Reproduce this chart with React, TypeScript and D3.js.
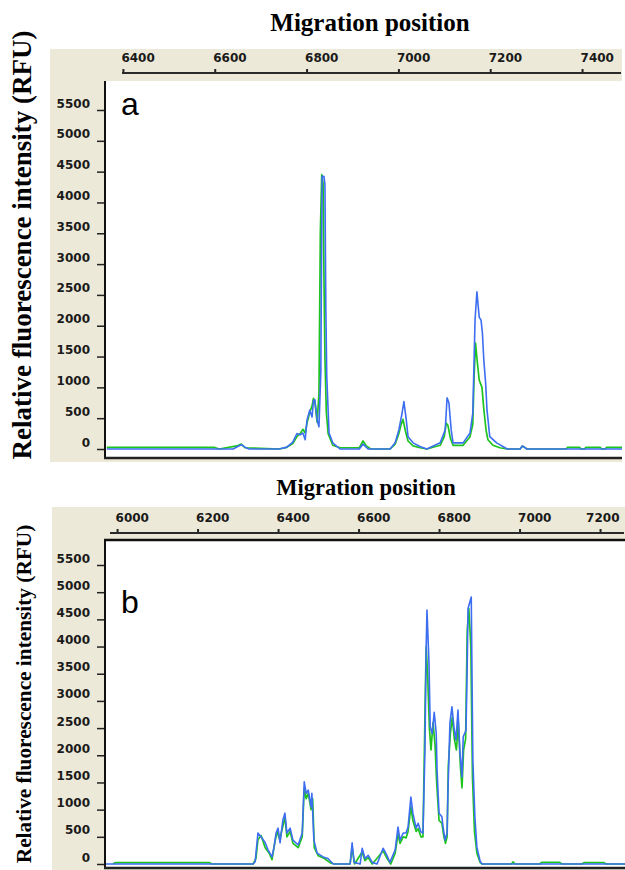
import { useEffect, useRef } from "react";
import * as d3 from "d3";

// tick labels
const yTicks = [0, 500, 1000, 1500, 2000, 2500, 3000, 3500, 4000, 4500, 5000, 5500];
const xTicksA = [6400, 6600, 6800, 7000, 7200, 7400];
const xTicksB = [6000, 6200, 6400, 6600, 6800, 7000, 7200];

// panel a traces: [migration position, RFU]
const blueA: [number, number][] = [
  [6365, 0], [6640, 0], [6650, 40], [6658, 70], [6666, 30], [6675, 0], [6740, 0],
  [6757, 30], [6770, 110], [6779, 250], [6786, 230], [6792, 260], [6797, 150],
  [6801, 470], [6807, 630], [6812, 520], [6815, 780], [6818, 800], [6823, 470],
  [6827, 360], [6831, 1230], [6833, 3500], [6834, 4430], [6838, 4420], [6840, 4290],
  [6842, 2260], [6844, 1170], [6849, 260], [6857, 100], [6873, 0], [6915, 0],
  [6923, 80], [6934, 0], [6982, 0], [6993, 100], [7001, 310], [7008, 580],
  [7012, 770], [7017, 480], [7021, 200], [7032, 100], [7047, 40], [7062, 0],
  [7091, 100], [7102, 310], [7106, 830], [7110, 750], [7115, 310], [7119, 100],
  [7141, 100], [7156, 260], [7162, 580], [7167, 2100], [7171, 2550], [7176, 2140],
  [7180, 2090], [7183, 1880], [7186, 1445], [7190, 1070], [7193, 630], [7199, 200],
  [7214, 100], [7237, 0], [7265, 0], [7270, 50], [7280, 0], [7487, 0],
];
const greenA: [number, number][] = [
  [6365, 25], [6600, 25], [6610, 0], [6648, 50], [6658, 80], [6666, 20], [6740, 0],
  [6755, 20], [6770, 90], [6779, 200], [6786, 250], [6792, 320], [6797, 260],
  [6801, 420], [6807, 600], [6812, 700], [6815, 820], [6818, 780], [6823, 430],
  [6827, 900], [6830, 3500], [6833, 4450], [6836, 4300], [6838, 2700], [6840, 1500],
  [6843, 600], [6847, 250], [6857, 60], [6873, 20], [6915, 20], [6923, 130],
  [6930, 50], [6940, 0], [6982, 0], [6993, 80], [7001, 250], [7006, 400],
  [7010, 480], [7015, 300], [7021, 130], [7032, 50], [7047, 20], [7062, 0],
  [7091, 60], [7100, 200], [7104, 420], [7108, 380], [7113, 180], [7119, 60],
  [7141, 60], [7156, 200], [7162, 400], [7165, 1200], [7168, 1720], [7172, 1400],
  [7176, 1120], [7182, 1000], [7186, 650], [7191, 300], [7195, 150], [7206, 60],
  [7221, 20], [7237, 0], [7265, 0], [7270, 50], [7280, 0], [7365, 0], [7368, 25],
  [7395, 25], [7398, 0], [7405, 0], [7408, 25], [7440, 25], [7443, 0], [7450, 0],
  [7453, 25], [7487, 25],
];

// panel b traces
const blueB: [number, number][] = [
  [5970, 0], [6338, 0], [6343, 40], [6350, 570], [6360, 480], [6368, 390],
  [6375, 260], [6385, 130], [6390, 310], [6395, 570], [6400, 660], [6405, 390],
  [6412, 810], [6417, 935], [6422, 570], [6430, 660], [6437, 440], [6450, 350],
  [6460, 570], [6465, 1510], [6470, 1300], [6475, 1360], [6482, 1050], [6484, 1300],
  [6489, 440], [6497, 200], [6512, 130], [6524, 100], [6537, 0], [6579, 0],
  [6584, 390], [6589, 30], [6604, 0], [6609, 290], [6616, 100], [6624, 160],
  [6634, 30], [6646, 0], [6661, 290], [6671, 150], [6678, 30], [6691, 260],
  [6698, 680], [6703, 440], [6711, 570], [6718, 570], [6723, 680], [6730, 1230],
  [6735, 935], [6743, 660], [6748, 750], [6755, 590], [6760, 570], [6765, 2100],
  [6768, 3990], [6770, 4670], [6775, 3690], [6778, 2520], [6783, 2400], [6788, 2790],
  [6793, 2400], [6795, 1730], [6800, 935], [6807, 870], [6810, 680], [6815, 440],
  [6820, 570], [6822, 1300], [6827, 2590], [6832, 2890], [6837, 2520], [6842, 2280],
  [6847, 2830], [6852, 2040], [6857, 1600], [6860, 2340], [6867, 2460], [6870, 3690],
  [6872, 4700], [6880, 4910], [6882, 3380], [6884, 1910], [6889, 870], [6894, 310],
  [6902, 50], [6907, 0], [7262, 0],
];
const greenB: [number, number][] = [
  [5990, 0], [5995, 25], [6230, 25], [6235, 0], [6338, 0], [6345, 100], [6350, 450],
  [6358, 520], [6368, 300], [6378, 200], [6385, 80], [6392, 400], [6398, 600],
  [6404, 450], [6412, 700], [6417, 860], [6422, 500], [6430, 600], [6437, 380],
  [6450, 300], [6460, 500], [6465, 1400], [6470, 1200], [6475, 1300], [6482, 1000],
  [6486, 1200], [6490, 300], [6500, 150], [6515, 100], [6530, 20], [6540, 0],
  [6579, 0], [6584, 300], [6590, 0], [6609, 220], [6616, 60], [6624, 120],
  [6634, 0], [6661, 240], [6671, 100], [6680, 0], [6691, 200], [6698, 550],
  [6703, 380], [6711, 500], [6718, 480], [6723, 600], [6730, 1050], [6735, 800],
  [6743, 600], [6748, 650], [6755, 500], [6760, 500], [6766, 3200], [6768, 3990],
  [6772, 3400], [6776, 2500], [6780, 2100], [6785, 2600], [6790, 2200], [6794, 1500],
  [6800, 800], [6807, 750], [6812, 500], [6816, 380], [6820, 500], [6823, 1800],
  [6828, 2400], [6833, 2700], [6838, 2300], [6843, 2100], [6848, 2600], [6853, 1800],
  [6857, 1400], [6861, 2100], [6866, 2300], [6870, 4300], [6874, 4700], [6879, 4000],
  [6883, 1600], [6888, 600], [6894, 200], [6902, 30], [6907, 0], [6980, 0],
  [6984, 40], [6988, 0], [7050, 0], [7055, 30], [7100, 30], [7105, 0], [7155, 0],
  [7160, 25], [7210, 25], [7215, 0], [7262, 0],
];

const panels = [
  {
    letter: "a", xTicks: xTicksA, blue: blueA, green: greenA,
    titleX: 370, titleY: 31, titleSize: 25,
    frame: { x0: 50, x1: 622, y0: 49, y1: 462 },
    plot: { x0: 105, x1: 622, y0: 81, y1: 458 },
    axisY: 73, axisX0: 122, xDomain: [6361, 7487], yRange: [449, 110],
    topBorder: false, letterY: 115, ylabelY: 245, ylabelSize: 27,
  },
  {
    letter: "b", xTicks: xTicksB, blue: blueB, green: greenB,
    titleX: 366, titleY: 495, titleSize: 22.5,
    frame: { x0: 52, x1: 625, y0: 507, y1: 870 },
    plot: { x0: 105, x1: 625, y0: 540, y1: 868 },
    axisY: 533, axisX0: 110, xDomain: [5970, 7262], yRange: [864, 565],
    topBorder: true, letterY: 613, ylabelY: 694, ylabelSize: 21.3,
  },
];

const serif = "'Liberation Serif', 'Times New Roman', serif";
const tickFont = "'DejaVu Sans', Verdana, sans-serif";

export default function App() {
  const svgRef = useRef<SVGSVGElement>(null);

  useEffect(() => {
    document.body.style.margin = "0";
    const svg = d3.select(svgRef.current);
    svg.selectAll("*").remove();
    svg.append("rect").attr("width", 625).attr("height", 870).attr("fill", "#fff");

    panels.forEach((p) => {
      const g = svg.append("g");
      const x = d3.scaleLinear().domain(p.xDomain).range([p.plot.x0, p.plot.x1]);
      const y = d3.scaleLinear().domain([0, 5500]).range(p.yRange);

      // title
      g.append("text")
        .attr("x", p.titleX).attr("y", p.titleY)
        .attr("text-anchor", "middle")
        .style("font-family", serif).style("font-weight", "bold")
        .style("font-size", `${p.titleSize}px`)
        .text("Migration position");

      // y label
      g.append("text")
        .attr("transform", `translate(31,${p.ylabelY}) rotate(-90)`)
        .attr("text-anchor", "middle")
        .style("font-family", serif).style("font-weight", "bold")
        .style("font-size", `${p.ylabelSize}px`)
        .text("Relative fluorescence intensity (RFU)");

      // beige frame + white plot area
      g.append("rect")
        .attr("x", p.frame.x0).attr("y", p.frame.y0)
        .attr("width", p.frame.x1 - p.frame.x0).attr("height", p.frame.y1 - p.frame.y0)
        .attr("fill", "#ece9d8");
      g.append("rect")
        .attr("x", p.plot.x0).attr("y", p.plot.y0)
        .attr("width", p.plot.x1 - p.plot.x0).attr("height", p.plot.y1 - p.plot.y0)
        .attr("fill", "#fff");

      // top axis
      const top = g.append("g")
        .attr("transform", `translate(0,${p.axisY})`)
        .call(d3.axisTop(x).tickValues(p.xTicks).tickSize(4).tickPadding(7).tickFormat(d3.format("d")));
      top.select(".domain").remove();
      top.selectAll(".tick line").attr("stroke", "#222").attr("stroke-width", 2);
      top.selectAll<SVGTextElement, number>(".tick text")
        .attr("text-anchor", "start").attr("x", -2)
        .attr("fill", "#1a1a1a")
        .style("font-family", tickFont).style("font-weight", "bold").style("font-size", "12px")
        .each(function (d) {
          // keep the last label inside the frame, as the original software does
          const w = this.getComputedTextLength();
          const over = x(d) - 2 + w - (p.frame.x1 - 6);
          if (over > 0) d3.select(this).attr("x", -2 - over);
        });
      g.append("line")
        .attr("x1", p.axisX0).attr("x2", p.frame.x1 - 1)
        .attr("y1", p.axisY).attr("y2", p.axisY)
        .attr("stroke", "#2a2a2a").attr("stroke-width", 2);

      // left axis
      const left = g.append("g")
        .attr("transform", `translate(${p.plot.x0 - 1},0)`)
        .call(d3.axisLeft(y).tickValues(yTicks).tickSize(7).tickPadding(7).tickFormat(d3.format("d")));
      left.select(".domain").remove();
      left.selectAll(".tick line").attr("stroke", "#222").attr("stroke-width", 1.5);
      left.selectAll(".tick text")
        .attr("dy", -3)
        .attr("fill", "#1a1a1a")
        .style("font-family", tickFont).style("font-weight", "bold").style("font-size", "12px");

      // traces
      const line = d3.line<[number, number]>().x((d) => x(d[0])).y((d) => y(d[1]));
      const clipId = `clip-${p.letter}`;
      g.append("clipPath").attr("id", clipId)
        .append("rect")
        .attr("x", p.plot.x0).attr("y", p.plot.y0)
        .attr("width", p.plot.x1 - p.plot.x0).attr("height", p.plot.y1 - p.plot.y0);
      const traces = g.append("g").attr("clip-path", `url(#${clipId})`);
      traces.append("path").datum(p.green)
        .attr("d", line).attr("fill", "none")
        .attr("stroke", "#1ec41e").attr("stroke-width", 1.7).attr("stroke-linejoin", "round");
      traces.append("path").datum(p.blue)
        .attr("d", line).attr("fill", "none")
        .attr("stroke", "#3d6ef2").attr("stroke-width", 1.6).attr("stroke-linejoin", "round");

      // plot frame lines
      g.append("line")
        .attr("x1", p.plot.x0).attr("x2", p.plot.x0)
        .attr("y1", p.plot.y0).attr("y2", p.plot.y1)
        .attr("stroke", "#111").attr("stroke-width", 2);
      if (p.topBorder) {
        g.append("line")
          .attr("x1", p.plot.x0 - 1).attr("x2", p.plot.x1)
          .attr("y1", p.plot.y0).attr("y2", p.plot.y0)
          .attr("stroke", "#111").attr("stroke-width", 2.5);
      }
      g.append("line")
        .attr("x1", p.plot.x0 - 1).attr("x2", p.plot.x1)
        .attr("y1", p.plot.y1).attr("y2", p.plot.y1)
        .attr("stroke", "#222").attr("stroke-width", 2.5);

      // panel letter
      g.append("text")
        .attr("x", 121).attr("y", p.letterY)
        .style("font-family", "'Liberation Sans', Arial, sans-serif")
        .style("font-size", "32px")
        .text(p.letter);
    });
  }, []);

  return <svg ref={svgRef} width={625} height={870} style={{ display: "block" }} />;
}
